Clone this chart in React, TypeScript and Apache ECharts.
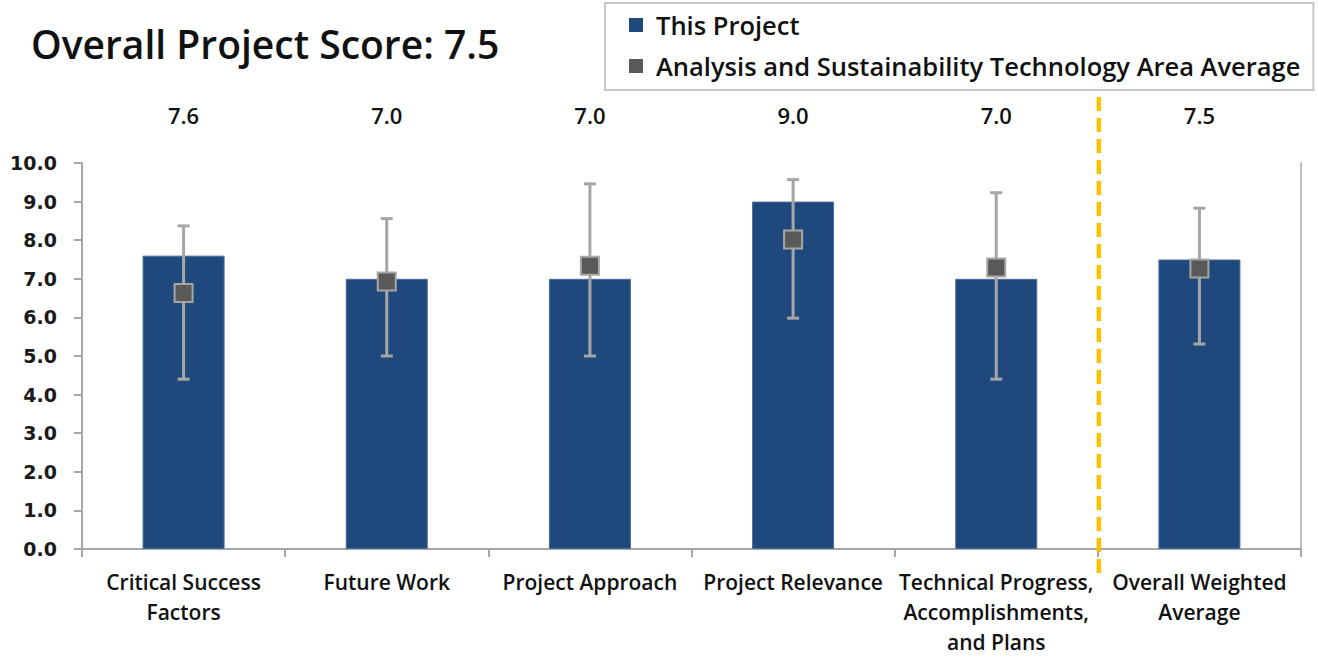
import React, { useEffect, useRef } from "react";
import * as echarts from "echarts";

const categories = [
  "Critical Success\nFactors",
  "Future Work",
  "Project Approach",
  "Project Relevance",
  "Technical Progress,\nAccomplishments,\nand Plans",
  "Overall Weighted\nAverage",
];
const thisProject = [7.6, 7.0, 7.0, 9.0, 7.0, 7.5];
const areaAverage = [6.63, 6.93, 7.34, 8.02, 7.29, 7.27];
const areaLow = [4.4, 5.0, 5.0, 5.98, 4.4, 5.31];
const areaHigh = [8.37, 8.56, 9.46, 9.57, 9.23, 8.83];
const overallScore = "7.5";
const seriesNames = ["This Project", "Analysis and Sustainability Technology Area Average"];

const FONT = "'Open Sans', Lato, sans-serif";
const W = 600;

export default function App() {
  const ref = useRef<HTMLDivElement>(null);
  useEffect(() => {
    if (!ref.current) return;
    const chart = echarts.init(ref.current, null, { renderer: "svg" });
    const option: any = {
      animation: false,
      backgroundColor: "#ffffff",
      title: {
        text: "Overall Project Score: " + overallScore,
        left: 26,
        top: 19,
        textStyle: { fontFamily: FONT, fontSize: 39, fontWeight: W, color: "#111" },
      },
      legend: {
        orient: "vertical",
        left: 605,
        top: 3,
        padding: [9, 13, 11, 24],
        itemGap: 15,
        itemWidth: 14,
        itemHeight: 14,
        borderColor: "#C8C8C8",
        borderWidth: 2,
        textStyle: { fontFamily: FONT, fontSize: 25.5, fontWeight: W, color: "#111", padding: [0, 0, 0, 8] },
        data: [
          { name: seriesNames[0], icon: "rect", itemStyle: { color: "#1F497D", borderWidth: 0 } },
          { name: seriesNames[1], icon: "rect", itemStyle: { color: "#595959", borderWidth: 0 } },
        ],
      },
      grid: { left: 82, right: 17, top: 163, bottom: 102 },
      xAxis: [
        {
          type: "category",
          data: categories,
          axisLine: { lineStyle: { color: "#A6A6A6", width: 2 } },
          axisTick: { show: true, length: 8, lineStyle: { color: "#A6A6A6", width: 2 } },
          axisLabel: {
            fontFamily: FONT,
            fontSize: 21,
            fontWeight: W,
            color: "#111",
            margin: 18,
            lineHeight: 30,
            interval: 0,
          },
        },
        {
          type: "category",
          position: "top",
          data: categories,
          axisLine: { show: false },
          axisTick: { show: false },
          axisLabel: {
            fontFamily: FONT,
            fontSize: 22,
            fontWeight: W,
            color: "#111",
            margin: 37,
            interval: 0,
            formatter: (_v: string, i: number) => thisProject[i].toFixed(1),
          },
        },
      ],
      yAxis: [
        {
          type: "value",
          min: 0,
          max: 10,
          interval: 1,
          splitLine: { show: false },
          axisLine: { show: true, lineStyle: { color: "#A6A6A6", width: 2 } },
          axisTick: { show: true, length: 8, lineStyle: { color: "#A6A6A6", width: 2 } },
          axisLabel: {
            fontFamily: "'DejaVu Sans', Verdana, sans-serif",
            fontSize: 19,
            fontWeight: "bold",
            color: "#1a1a1a",
            margin: 25,
            formatter: (v: number) => v.toFixed(1),
          },
        },
        {
          type: "value",
          position: "right",
          min: 0,
          max: 10,
          interval: 1,
          splitLine: { show: false },
          axisLine: { show: true, lineStyle: { color: "#BFBFBF", width: 2 } },
          axisTick: { show: false },
          axisLabel: { show: false },
        },
      ],
      series: [
        {
          name: seriesNames[0],
          type: "bar",
          data: thisProject,
          barWidth: 82,
          itemStyle: { color: "#1F497D", borderColor: "#4A6C96", borderWidth: 1 },
          z: 2,
        },
        {
          name: "errors",
          type: "custom",
          data: areaLow.map((lo, i) => [i, lo, areaHigh[i]]),
          z: 3,
          renderItem: (params: any, api: any) => {
            const x = api.value(0);
            const lo = api.coord([x, api.value(1)]);
            const hi = api.coord([x, api.value(2)]);
            const cap = 6;
            const style = { stroke: "#A6A6A6", lineWidth: 3 };
            return {
              type: "group",
              children: [
                { type: "line", shape: { x1: lo[0], y1: lo[1], x2: hi[0], y2: hi[1] }, style },
                { type: "line", shape: { x1: lo[0] - cap, y1: lo[1], x2: lo[0] + cap, y2: lo[1] }, style },
                { type: "line", shape: { x1: hi[0] - cap, y1: hi[1], x2: hi[0] + cap, y2: hi[1] }, style },
              ],
            };
          },
        },
        {
          name: seriesNames[1],
          type: "scatter",
          data: areaAverage,
          symbol: "rect",
          symbolSize: 18,
          itemStyle: { color: "#595959", borderColor: "#A6A6A6", borderWidth: 2, opacity: 1 },
          z: 4,
        },
      ],
    };
    chart.setOption(option);
    const x4 = chart.convertToPixel({ xAxisIndex: 0 }, categories[4]) as number;
    const x5 = chart.convertToPixel({ xAxisIndex: 0 }, categories[5]) as number;
    const yTop = chart.convertToPixel({ yAxisIndex: 0 }, 10) as number;
    const yBot = chart.convertToPixel({ yAxisIndex: 0 }, 0) as number;
    const xd = (x4 + x5) / 2 + 1;
    chart.setOption({
      graphic: [
        {
          type: "line",
          shape: { x1: xd, y1: yTop - 66, x2: xd, y2: yBot + 29 },
          style: { stroke: "#FFC000", lineWidth: 4.5, lineDash: [14, 7] },
          z: 10,
        },
      ],
    });
    return () => chart.dispose();
  }, []);
  return <div ref={ref} style={{ width: 1318, height: 657, position: "absolute", left: 0, top: 0 }} />;
}
